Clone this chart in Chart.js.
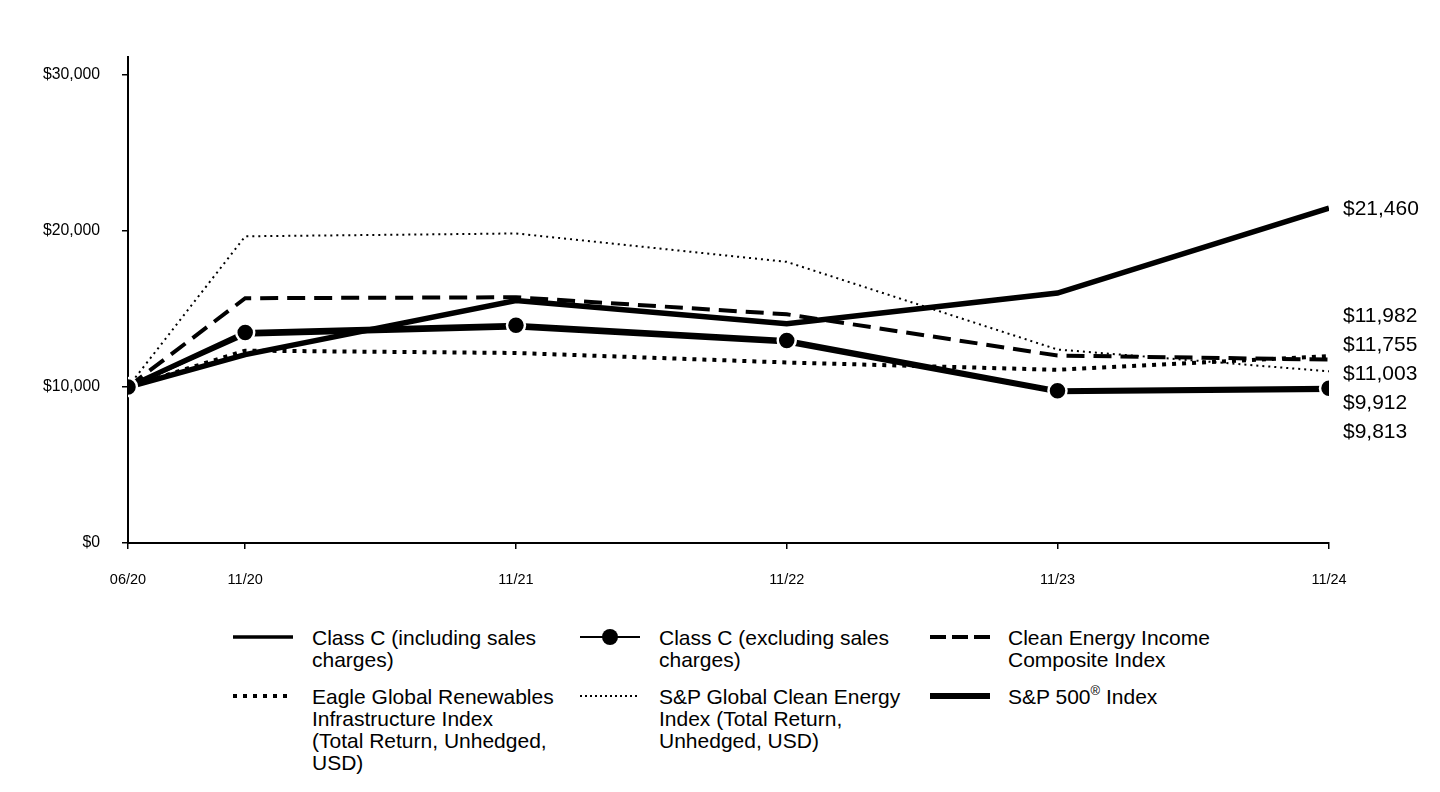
<!DOCTYPE html>
<html><head><meta charset="utf-8">
<script src="https://cdn.jsdelivr.net/npm/chart.js@4.4.1/dist/chart.umd.min.js"></script>
<style>
body{margin:0;background:#fff;width:1440px;height:792px;overflow:hidden;font-family:"Liberation Sans",Arial,sans-serif;}
#wrap{position:absolute;left:0;top:0;width:1440px;height:600px;}
.leg{position:absolute;font-size:21px;line-height:22px;color:#000;white-space:nowrap;}
.sw{position:absolute;}
</style></head><body>
<div id="wrap"><canvas id="c" width="1440" height="600"></canvas></div>
<div id="legend"></div>
<script>
const tickLabels = ['06/20','11/20','11/21','11/22','11/23','11/24'];
const dayOffsets = [0,158,523,888,1253,1619];
const classCIncl = [10000,13355,13820,12846,9666,9813];
const classCExcl = [10000,13490,13960,12976,9764,9912];
const cleanEnergyComposite = [10000,15690,15750,14660,12013,11755];
const eagleRenewables = [10000,12330,12180,11570,11100,11982];
const spGlobalClean = [10000,19657,19840,18020,12400,11003];
const sp500 = [10000,12077,15546,14060,16020,21460];
const yTicks = [0,10000,20000,30000];
const endLabels = ['$21,460','$11,982','$11,755','$11,003','$9,912','$9,813'];

const pts = arr => arr.map((v,i)=>({x:dayOffsets[i], y:v}));
const mk = (label, data, opts) => Object.assign({
  label, data: pts(data), borderColor:'#000', backgroundColor:'#000',
  pointRadius:0, pointHoverRadius:0, fill:false, tension:0,
  borderCapStyle:'butt', borderJoinStyle:'miter'
}, opts);

const endLabelPlugin = {
  id:'endLabels',
  afterDatasetsDraw(chart){
    const {ctx, scales:{x,y}} = chart;
    ctx.save();
    ctx.font = '21px "Liberation Sans", Arial, sans-serif';
    ctx.fillStyle = '#000';
    ctx.textBaseline = 'middle';
    ctx.textAlign = 'left';
    const lx = x.getPixelForValue(dayOffsets[dayOffsets.length-1]) + 14;
    ctx.fillText(endLabels[0], lx, y.getPixelForValue(sp500[sp500.length-1]) + 1);
    const top = y.getPixelForValue(eagleRenewables[eagleRenewables.length-1]) - 40;
    for (let i=1;i<endLabels.length;i++){
      ctx.fillText(endLabels[i], lx, top + (i-1)*29);
    }
    ctx.restore();
  }
};

new Chart(document.getElementById('c'), {
  type:'line',
  data:{ datasets:[
    mk('Class C (excluding sales charges)', classCExcl, {borderWidth:5, pointRadius:9, pointHoverRadius:9, pointBackgroundColor:'#000', pointBorderColor:'#fff', pointBorderWidth:2.5, order:0}),
    mk('S&P 500® Index', sp500, {borderWidth:5.5, order:1}),
    mk('Clean Energy Income Composite Index', cleanEnergyComposite, {borderWidth:4, borderDash:[18,9], order:2}),
    mk('Eagle Global Renewables Infrastructure Index', eagleRenewables, {borderWidth:4, borderDash:[4,6], order:3}),
    mk('S&P Global Clean Energy Index', spGlobalClean, {borderWidth:2, borderDash:[2,4], order:4}),
    mk('Class C (including sales charges)', classCIncl, {borderWidth:4, order:5}),
  ]},
  options:{
    responsive:false, animation:false, events:[],
    layout:{padding:{top:57,right:111,bottom:0,left:0}},
    plugins:{legend:{display:false}, tooltip:{enabled:false}},
    scales:{
      x:{type:'linear', min:0, max:dayOffsets[dayOffsets.length-1],
        afterBuildTicks:s=>{ s.ticks = dayOffsets.map(v=>({value:v})); },
        afterFit:s=>{ s.height = 57; },
        ticks:{autoSkip:false, maxRotation:0, padding:22, color:'#000',
          font:{family:'"Liberation Sans", Arial, sans-serif', size:14.5},
          callback:(v,i)=>tickLabels[i]},
        grid:{drawOnChartArea:false, drawTicks:true, tickLength:6, color:'#000', lineWidth:1.5},
        border:{display:true, color:'#000', width:2}
      },
      y:{min:0, max:31150,
        afterBuildTicks:s=>{ s.ticks = yTicks.map(v=>({value:v})); },
        afterFit:s=>{ s.width = 128; },
        ticks:{padding:22, color:'#000',
          font:{family:'"Liberation Sans", Arial, sans-serif', size:15.8},
          callback:v=>'$'+Number(v).toLocaleString('en-US')},
        grid:{drawOnChartArea:false, drawTicks:true, tickLength:6, color:'#000', lineWidth:1.5},
        border:{display:true, color:'#000', width:2}
      }
    }
  },
  plugins:[endLabelPlugin]
});

// HTML legend
const legendItems = [
  {text:'Class C (including sales<br>charges)', x:233, tx:312, y:627, sw:'<line x1="0" y1="10" x2="60" y2="10" stroke="#000" stroke-width="3.5"/>'},
  {text:'Class C (excluding sales<br>charges)', x:580, tx:659, y:627, sw:'<line x1="0" y1="10" x2="60" y2="10" stroke="#000" stroke-width="2"/><circle cx="30" cy="10" r="8" fill="#000"/>'},
  {text:'Clean Energy Income<br>Composite Index', x:930, tx:1008, y:627, sw:'<line x1="0" y1="10" x2="60" y2="10" stroke="#000" stroke-width="4" stroke-dasharray="16,6"/>'},
  {text:'Eagle Global Renewables<br>Infrastructure Index<br>(Total Return, Unhedged,<br>USD)', x:233, tx:312, y:686, sw:'<line x1="0" y1="10" x2="60" y2="10" stroke="#000" stroke-width="4" stroke-dasharray="4,6"/>'},
  {text:'S&amp;P Global Clean Energy<br>Index (Total Return,<br>Unhedged, USD)', x:580, tx:659, y:686, sw:'<line x1="0" y1="10" x2="60" y2="10" stroke="#000" stroke-width="2" stroke-dasharray="2,3"/>'},
  {text:'S&amp;P 500<sup style="font-size:13px;line-height:0;position:relative;top:-1px">®</sup> Index', x:930, tx:1008, y:686, sw:'<line x1="0" y1="10" x2="60" y2="10" stroke="#000" stroke-width="6"/>'},
];
const lg = document.getElementById('legend');
legendItems.forEach(it=>{
  const s = document.createElement('div');
  s.className='sw'; s.style.left=it.x+'px'; s.style.top=(it.y+0)+'px';
  s.innerHTML = '<svg width="60" height="20">'+it.sw+'</svg>';
  lg.appendChild(s);
  const t = document.createElement('div');
  t.className='leg'; t.style.left=it.tx+'px'; t.style.top=it.y+'px';
  t.innerHTML = it.text;
  lg.appendChild(t);
});
</script>
</body></html>
